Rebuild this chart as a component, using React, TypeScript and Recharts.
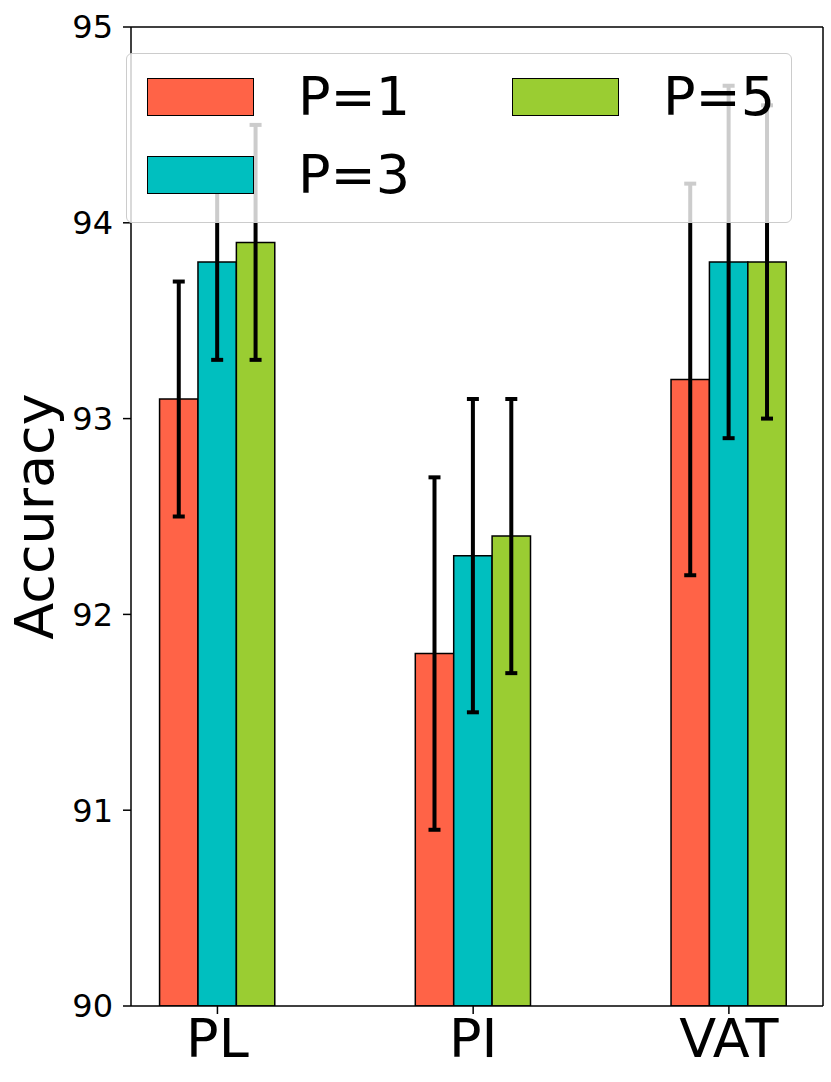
import React from 'react';
import {
  BarChart, Bar, XAxis, YAxis, ErrorBar, Legend, ReferenceLine,
} from 'recharts';

// categories and series
const methods = ['PL', 'PI', 'VAT'];
const seriesNames = ['P=1', 'P=3', 'P=5'];
const seriesColors = ['#ff6347', '#00bfbf', '#9acd32'];

const accP1 = [93.1, 91.8, 93.2];
const accP3 = [93.8, 92.3, 93.8];
const accP5 = [93.9, 92.4, 93.8];

const lowP1 = [92.5, 90.9, 92.2];
const highP1 = [93.7, 92.7, 94.2];
const lowP3 = [93.3, 91.5, 92.9];
const highP3 = [94.3, 93.1, 94.7];
const lowP5 = [93.3, 91.7, 93.0];
const highP5 = [94.5, 93.1, 94.6];

const yTicks = [90, 91, 92, 93, 94, 95];

const X_MIN = -0.338;
const X_MAX = 2.368;
const FONT = '"DejaVu Sans", sans-serif';

const data = methods.map((m, i) => ({
  x: i,
  name: m,
  p1: accP1[i],
  p3: accP3[i],
  p5: accP5[i],
  e1: [accP1[i] - lowP1[i], highP1[i] - accP1[i]],
  e3: [accP3[i] - lowP3[i], highP3[i] - accP3[i]],
  e5: [accP5[i] - lowP5[i], highP5[i] - accP5[i]],
}));

const renderLegend = (props: any) => {
  const items = props.payload || [];
  return (
    <div
      style={{
        boxSizing: 'border-box',
        width: 666,
        height: 170,
        border: '1.5px solid #cccccc',
        borderRadius: 6,
        background: 'rgba(255,255,255,0.8)',
        display: 'grid',
        gridTemplateColumns: '365px auto',
        gridTemplateRows: '78px 78px',
        gridAutoFlow: 'column',
        padding: '23px 0 0 20px',
        fontFamily: FONT,
      }}
    >
      {items.map((it: any) => (
        <div key={it.value} style={{ display: 'flex', alignItems: 'center', height: 39 }}>
          <div
            style={{
              boxSizing: 'border-box',
              width: 107,
              height: 38,
              background: it.color,
              border: '1.5px solid #000',
            }}
          />
          <span style={{ marginLeft: 44, fontSize: 54, lineHeight: '39px', color: '#000' }}>
            {it.value}
          </span>
        </div>
      ))}
    </div>
  );
};

const AccuracyLabel = (props: any) => {
  const vb = props.viewBox || { x: 0, y: 0, width: 0, height: 0 };
  const cx = vb.x + 53;
  const cy = vb.y + vb.height / 2;
  return (
    <text
      x={cx}
      y={cy}
      transform={`rotate(-90, ${cx}, ${cy})`}
      textAnchor="middle"
      fontSize={54}
      fontFamily={FONT}
      fill="#000"
    >
      Accuracy
    </text>
  );
};

export default function App() {
  return (
    <div style={{ position: 'absolute', left: 0, top: 0, width: 831, height: 1082, background: '#fff' }}>
      <BarChart
        width={831}
        height={1082}
        data={data}
        margin={{ top: 27, right: 8, left: 0, bottom: 0 }}
        barGap={0}
        style={{ fontFamily: FONT }}
      >
        <XAxis
          dataKey="x"
          type="number"
          domain={[X_MIN, X_MAX]}
          ticks={[0, 1, 2]}
          allowDataOverflow
          tickFormatter={(v: number) => methods[v] ?? ''}
          height={76}
          tickSize={8}
          tickMargin={5}
          axisLine={{ stroke: '#000', strokeWidth: 1.5 }}
          tickLine={{ stroke: '#000', strokeWidth: 1.5 }}
          tick={{ fill: '#000', fontSize: 54, fontFamily: FONT }}
        />
        <YAxis
          type="number"
          domain={[90, 95]}
          ticks={yTicks}
          allowDataOverflow
          width={131}
          tickSize={8}
          tickMargin={10}
          axisLine={{ stroke: '#000', strokeWidth: 1.5 }}
          tickLine={{ stroke: '#000', strokeWidth: 1.5 }}
          tick={{ fill: '#000', fontSize: 32, fontFamily: FONT }}
          label={<AccuracyLabel />}
        />
        <ReferenceLine y={95} stroke="#000" strokeWidth={1.5} />
        <ReferenceLine x={X_MAX} stroke="#000" strokeWidth={1.5} />
        <Bar dataKey="p1" name={seriesNames[0]} fill={seriesColors[0]} stroke="#000" strokeWidth={1.5} barSize={38.4} isAnimationActive={false}>
          <ErrorBar dataKey="e1" width={6} stroke="#000" strokeWidth={4} isAnimationActive={false} />
        </Bar>
        <Bar dataKey="p3" name={seriesNames[1]} fill={seriesColors[1]} stroke="#000" strokeWidth={1.5} barSize={38.4} isAnimationActive={false}>
          <ErrorBar dataKey="e3" width={6} stroke="#000" strokeWidth={4} isAnimationActive={false} />
        </Bar>
        <Bar dataKey="p5" name={seriesNames[2]} fill={seriesColors[2]} stroke="#000" strokeWidth={1.5} barSize={38.4} isAnimationActive={false}>
          <ErrorBar dataKey="e5" width={6} stroke="#000" strokeWidth={4} isAnimationActive={false} />
        </Bar>
        <Legend
          layout="horizontal"
          verticalAlign="middle"
          align="center"
          content={renderLegend}
          wrapperStyle={{ position: 'absolute', left: 126, top: 53, width: 666, height: 170 }}
        />
      </BarChart>
    </div>
  );
}
